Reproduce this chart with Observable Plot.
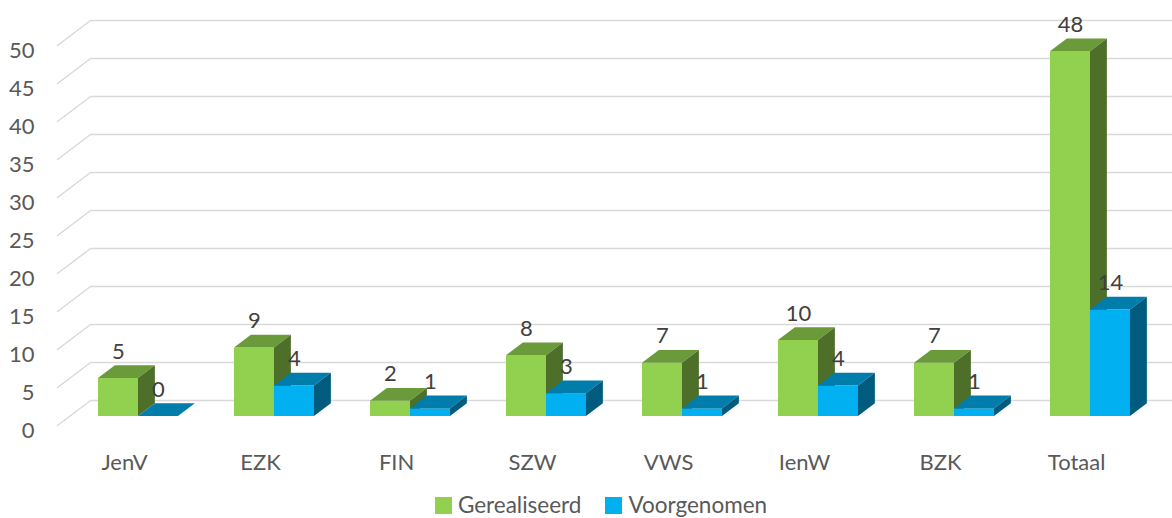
<!DOCTYPE html>
<html>
<head>
<meta charset="utf-8">
<script src="https://cdn.jsdelivr.net/npm/d3@7"></script>
<script src="https://cdn.jsdelivr.net/npm/@observablehq/plot@0.6"></script>
<style>
  html, body { margin: 0; padding: 0; background: #ffffff; }
  #chart svg { display: block; }
  .legend { display: flex; justify-content: center; align-items: center; padding-left: 54px; margin-top: 4px;
            font-family: Lato, "Open Sans", sans-serif; font-size: 22.5px; color: #595959; line-height: 26px; }
  .legend .item { display: flex; align-items: center; margin-right: 24px; }
  .legend .sw { width: 17px; height: 17px; margin-right: 6px; }
</style>
</head>
<body>
<div id="chart"></div>
<script>
// ---- data ----
const categories = ["JenV", "EZK", "FIN", "SZW", "VWS", "IenW", "BZK", "Totaal"];
const gerealiseerd = [5, 9, 2, 8, 7, 10, 7, 48];
const voorgenomen = [0, 4, 1, 3, 1, 4, 1, 14];
const yTicks = [0, 5, 10, 15, 20, 25, 30, 35, 40, 45, 50];
const seriesNames = ["Gerealiseerd", "Voorgenomen"];

// ---- styles ----
const colors = {
  Gerealiseerd: {front: "#92D050", top: "#6B9A3B", side: "#4D6F29"},
  Voorgenomen: {front: "#00B0F0", top: "#007DAB", side: "#005C7F"}
};

// ---- layout / oblique projection ----
const W = 1172, H = 488;
const pxPerCat = 136, pxPerUnit = 7.6;
const originX = 126.1, originY = 425;          // pixel of (category 0 centre, value 0) on the front plane
const DX = 33, DY = 25;                         // full depth offset (px)
const ddx = d => d * DX / pxPerCat;
const ddy = d => d * DY / pxPerUnit;
const d0 = 0.36, d1 = 0.872;                     // bar front / back depth
const bw = 40 / pxPerCat;                        // bar width in category units
const wallX = (57 - originX) / pxPerCat;         // left edge of floor
const xDomain = [-originX / pxPerCat, (W - originX) / pxPerCat];
const yDomain = [(originY - H) / pxPerUnit, originY / pxPerUnit];

const valuesBySeries = {Gerealiseerd: gerealiseerd, Voorgenomen: voorgenomen};

const bars = [];
seriesNames.forEach((s, si) => {
  valuesBySeries[s].forEach((v, i) => {
    const left = si === 0 ? i - bw : i;
    bars.push({series: s, cat: categories[i], i, v, left, right: left + bw, id: s + i});
  });
});

const topRows = bars.flatMap(b => [
  {id: b.id, series: b.series, y: b.v + ddy(d0), x1: b.left + ddx(d0), x2: b.right + ddx(d0)},
  {id: b.id, series: b.series, y: b.v + ddy(d1), x1: b.left + ddx(d1), x2: b.right + ddx(d1)}
]);
const sideRows = bars.flatMap(b => [
  {id: b.id, series: b.series, x: b.right + ddx(d0), y1: ddy(d0), y2: b.v + ddy(d0)},
  {id: b.id, series: b.series, x: b.right + ddx(d1), y1: ddy(d1), y2: b.v + ddy(d1)}
]);
const gridRows = yTicks.flatMap(t => [
  {t, x: wallX, y: t},
  {t, x: wallX + ddx(1), y: t + ddy(1)},
  {t, x: xDomain[1], y: t + ddy(1)}
]);

const marks = [
  Plot.line(gridRows, {x: "x", y: "y", z: "t", stroke: "#D9D9D9", strokeWidth: 1.5})
];
seriesNames.forEach(s => {
  const c = colors[s];
  const bs = bars.filter(b => b.series === s);
  marks.push(
    Plot.rect(bs, {x1: b => b.left + ddx(d0), x2: b => b.right + ddx(d0), y1: ddy(d0), y2: b => b.v + ddy(d0), fill: c.front}),
    Plot.areaX(topRows.filter(r => r.series === s), {y: "y", x1: "x1", x2: "x2", z: "id", fill: c.top}),
    Plot.areaY(sideRows.filter(r => r.series === s), {x: "x", y1: "y1", y2: "y2", z: "id", fill: c.side})
  );
});
marks.push(
  Plot.text(bars, {x: b => (b.left + b.right) / 2 + ddx(d0), y: b => b.v + ddy(d0), text: b => String(b.v),
                   dy: -27, fill: "#404040", fontSize: 22, lineAnchor: "middle"}),
  Plot.axisY({ticks: yTicks, anchor: "left", tickSize: 0, tickPadding: 0, dx: 34, dy: 5, fill: "#595959", fontSize: 22}),
  Plot.axisX({ticks: d3.range(categories.length), tickFormat: i => categories[i], anchor: "bottom",
              tickSize: 0, tickPadding: 0, dx: -2, dy: -34, fill: "#595959", fontSize: 22})
);

const chart = Plot.plot({
  width: W, height: H,
  marginTop: 0, marginRight: 0, marginBottom: 0, marginLeft: 0,
  style: {fontFamily: "Lato, 'Open Sans', sans-serif", fontSize: "22px", color: "#595959", background: "#ffffff", overflow: "visible"},
  x: {type: "linear", domain: xDomain},
  y: {type: "linear", domain: yDomain},
  marks
});
document.getElementById("chart").appendChild(chart);

const legend = document.createElement("div");
legend.className = "legend";
seriesNames.forEach(s => {
  const item = document.createElement("div");
  item.className = "item";
  const sw = document.createElement("span");
  sw.className = "sw";
  sw.style.background = colors[s].front;
  const label = document.createElement("span");
  label.textContent = s;
  item.appendChild(sw);
  item.appendChild(label);
  legend.appendChild(item);
});
document.body.appendChild(legend);
</script>
</body>
</html>
